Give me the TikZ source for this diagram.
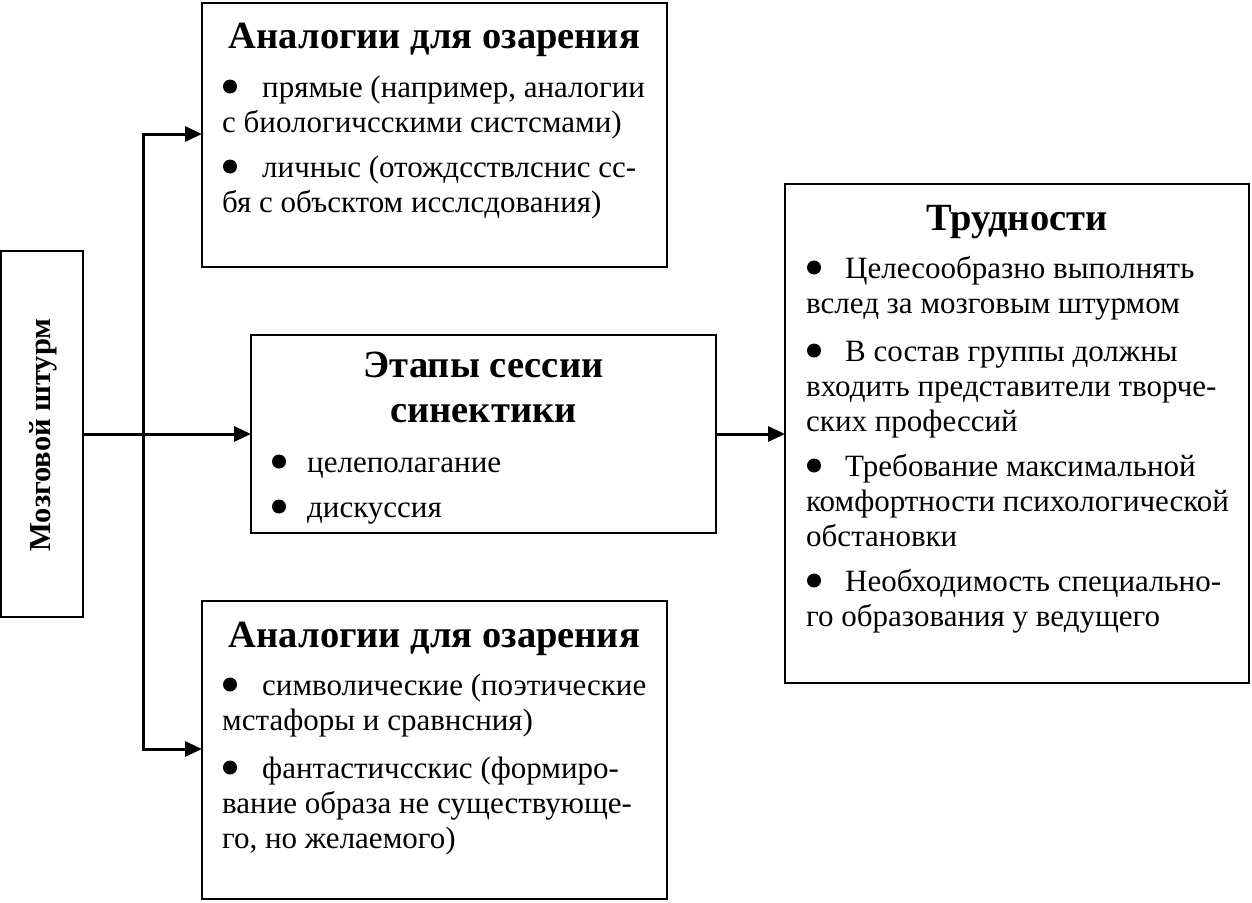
\documentclass[tikz,border=0pt]{standalone}
\usepackage{fontspec}
\setmainfont{Liberation Serif}
\usetikzlibrary{arrows.meta}
\newcommand{\gapA}{\hspace*{40pt}}
\newcommand{\gapB}{\hspace*{39pt}}
\newcommand{\gapC}{\hspace*{36pt}}
\newcommand{\myitem}[1]{\vtop{#1}}
\newcommand{\myline}[1]{\hbox{#1}}
\begin{document}
\begin{tikzpicture}[x=1pt,y=-1pt,
  box/.style={draw, line width=2pt, inner sep=0pt, outer sep=0pt, anchor=north west},
  conn/.style={line width=3pt},
  arr/.style={conn, -{Triangle[length=17pt,width=15pt]}},
  txt/.style={anchor=base west, inner sep=0pt, font=\fontsize{31}{35}\selectfont},
  ttl/.style={anchor=base, inner sep=0pt, font=\bfseries\fontsize{38.5}{44}\selectfont},
  dot/.style={fill=black}]
\useasboundingbox (0,0) rectangle (1252,902);
% boxes
\node[box, minimum width=82pt, minimum height=366pt] (L) at (1,251) {};
\node[box, minimum width=465pt, minimum height=264pt] (T) at (202,3) {};
\node[box, minimum width=465pt, minimum height=198pt] (M) at (251,335) {};
\node[box, minimum width=465pt, minimum height=298pt] (B) at (202,601) {};
\node[box, minimum width=464pt, minimum height=499pt] (R) at (785,184) {};
% left vertical label
\node[anchor=base, inner sep=0pt, rotate=90, font=\bfseries\fontsize{30.5}{35}\selectfont] (Lt) at (50.5,435) {Мозговой штурм};
% connectors
\coordinate (bt) at (143,134);
\coordinate (bb) at (143,749);
\draw[arr] (bb) -- (bt) -- (bt -| T.west);
\draw[arr] (bt) -- (bb) -- (bb -| B.west);
\draw[arr] (L.east) -- (M.west);
\draw[arr] (M.east) -- (M.east -| R.west);
% top box
\node[ttl] (Tt) at (434.5,48) {Аналогии для озарения};
\node[txt] (T1) at (222,97) {\myitem{\myline{\gapA прямые (например, аналогии}\myline{с биологичсскими систсмами)}}};
\node[txt] (T2) at (222,177) {\myitem{\myline{\gapA личныс (отождсствлснис сс-}\myline{бя с объсктом исслсдования)}}};
% middle box
\node[ttl] (Mt1) at (483.5,377) {Этапы сессии};
\node[ttl] (Mt2) at (483.5,422) {синектики};
\node[txt] (M1) at (271,472) {\gapC целеполагание};
\node[txt] (M2) at (271,517) {\gapC дискуссия};
% bottom box
\node[ttl] (Bt) at (434.5,647) {Аналогии для озарения};
\node[txt] (B1) at (222,695) {\myitem{\myline{\gapA символические (поэтические}\myline{мстафоры и сравнсния)}}};
\node[txt] (B2) at (222,778) {\myitem{\myline{\gapA фантастичсскис (формиро-}\myline{вание образа не существующе-}\myline{го, но желаемого)}}};
% right box
\node[ttl] (Rt) at (1017,230) {Трудности};
\node[txt] (R1) at (806,278) {\myitem{\myline{\gapB Целесообразно выполнять}\myline{вслед за мозговым штурмом}}};
\node[txt] (R2) at (806,361) {\myitem{\myline{\gapB В состав группы должны}\myline{входить представители творче-}\myline{ских профессий}}};
\node[txt] (R3) at (806,476) {\myitem{\myline{\gapB Требование максимальной}\myline{комфортности психологической}\myline{обстановки}}};
\node[txt] (R4) at (806,591) {\myitem{\myline{\gapB Необходимость специально-}\myline{го образования у ведущего}}};
% bullets
\foreach \n in {T1,T2,M1,M2,B1,B2,R1,R2,R3,R4}
  \fill[dot] ([shift={(8,-10.5)}]\n.base west) circle[radius=7pt];
\end{tikzpicture}
\end{document}
